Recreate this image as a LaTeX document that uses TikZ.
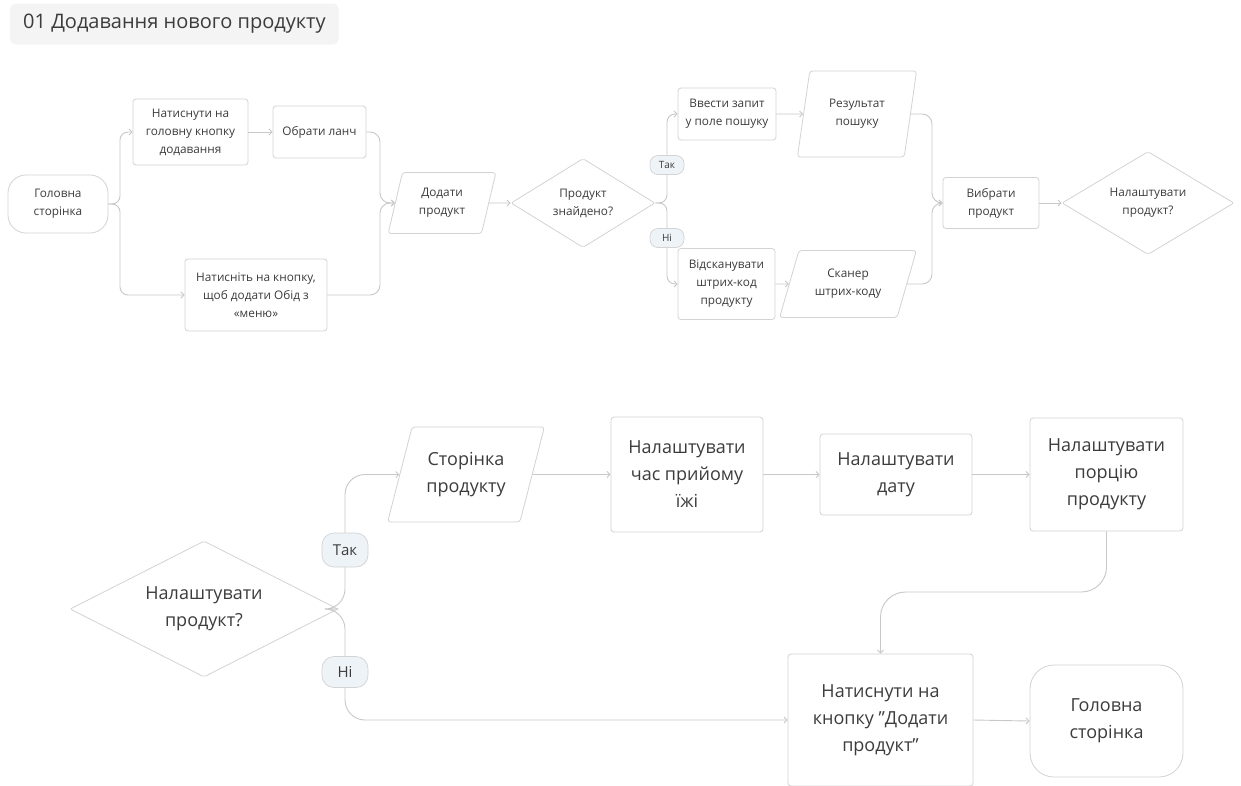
\documentclass[tikz,border=0pt]{standalone}
\usepackage{fontspec}
\setmainfont{Open Sans}
\usetikzlibrary{shapes.geometric,arrows.meta}
\definecolor{bord}{HTML}{D3D3D3}
\definecolor{linec}{HTML}{C8C8C8}
\definecolor{txt}{HTML}{3C3C3C}
\definecolor{pillfill}{HTML}{EEF3F8}
\definecolor{titlebg}{HTML}{F4F4F5}
\begin{document}
\begin{tikzpicture}[x=1pt,y=-1pt,
 base/.style={draw=bord,line width=0.8pt,fill=white,text=txt,align=center,inner sep=0pt},
 sm/.style={font=\fontsize{11.8}{18}\selectfont},
 lg/.style={font=\fontsize{18}{27}\selectfont},
 box/.style={base,rectangle,rounded corners=3pt},
 term/.style={base,rectangle,rounded corners=#1},
 term/.default=18pt,
 para/.style={base,trapezium,trapezium stretches=true,rounded corners=3pt},
 dia/.style={base,diamond,aspect=1.6,rounded corners=2pt},
 pill/.style={draw=bord,line width=0.7pt,fill=pillfill,text=txt,rounded corners=8pt,inner sep=0pt},
 conn/.style={draw=linec,line width=0.9pt,-{Straight Barb[length=3pt,width=6pt]}},
]
\useasboundingbox[fill=white] (0,0) rectangle (1241,785);
\clip (0,0) rectangle (1241,785);

% title
\node[fill=titlebg,rounded corners=6pt,anchor=west,inner xsep=13pt,minimum height=41pt,
      font=\fontsize{20}{22}\selectfont,text=txt] (title) at (10,24) {01 Додавання нового продукту};

% ---------- top flow ----------
\node[term=18pt,sm,minimum width=100,minimum height=58] (g1) at (58,204) {Головна\\сторінка};
\node[box,sm,minimum width=115,minimum height=66] (n1) at (190.5,132) {Натиснути на\\головну кнопку\\додавання};
\node[box,sm,minimum width=93,minimum height=52] (o1) at (319.5,132) {Обрати ланч};
\node[box,sm,minimum width=142,minimum height=72] (n2) at (256,295) {Натисніть на кнопку,\\щоб додати Обід з\\«меню»};
\node[para,sm,trapezium left angle=74,trapezium right angle=106,minimum width=108,minimum height=61] (d1) at (442,203) {Додати\\продукт};
\node[dia,sm,minimum width=144,minimum height=89] (q1) at (583,203) {Продукт\\знайдено?};
\node[box,sm,minimum width=98,minimum height=52] (v1) at (727,114) {Ввести запит\\у поле пошуку};
\node[para,sm,trapezium left angle=76,trapezium right angle=104,minimum width=120,minimum height=86] (r1) at (857,114) {Результат\\пошуку};
\node[box,sm,minimum width=97,minimum height=71] (s1) at (726.5,284) {Відсканувати\\штрих-код\\продукту};
\node[para,sm,trapezium left angle=66,trapezium right angle=114,minimum width=137,minimum height=67] (c1) at (848,284) {Сканер\\штрих-коду};
\node[box,sm,minimum width=96,minimum height=51] (b1) at (991,203) {Вибрати\\продукт};
\node[dia,sm,minimum width=172,minimum height=103] (q2) at (1148,203) {Налаштувати\\продукт?};

% ---------- bottom flow ----------
\node[dia,lg,minimum width=268,minimum height=136] (q3) at (204,609) {Налаштувати\\продукт?};
\node[para,lg,trapezium left angle=68,trapezium right angle=112,minimum width=157,minimum height=95] (p1) at (466,474.5) {Сторінка\\продукту};
\node[box,lg,minimum width=152,minimum height=115] (t1) at (687,474.5) {Налаштувати\\час прийому\\їжі};
\node[box,lg,minimum width=152,minimum height=81] (t2) at (896,474.5) {Налаштувати\\дату};
\node[box,lg,minimum width=153,minimum height=113] (t3) at (1106.5,474.5) {Налаштувати\\порцію\\продукту};
\node[box,lg,minimum width=185,minimum height=132] (k1) at (880.5,720) {Натиснути на\\кнопку "Додати\\продукт"};
\node[term=24pt,lg,minimum width=153,minimum height=112] (h1) at (1106.5,721) {Головна\\сторінка};

% ---------- junctions ----------
\coordinate (jA) at (120,204);
\coordinate (jB) at (380,203);
\coordinate (jC) at (667,203);
\coordinate (jD) at (932,203);
\coordinate (jE) at (345,609);
\coordinate (jF) at (1000,592);

% ---------- connectors top ----------
\draw[conn,rounded corners=8pt] (g1.east) -- (jA) |- (n1.west);
\draw[conn,rounded corners=8pt] (g1.east) -- (jA) |- (n2.west);
\draw[conn] (n1.east) -- (o1.west);
\draw[conn,rounded corners=10pt] (o1.east) -| (jB) -- (d1.west);
\draw[conn,rounded corners=10pt] (n2.east) -| (jB) -- (d1.west);
\draw[conn] (d1.east) -- (q1.west);
\draw[conn,rounded corners=8pt] (q1.east) -- (jC) |- (v1.west);
\draw[conn,rounded corners=8pt] (q1.east) -- (jC) |- (s1.west);
\draw[conn] (v1.east) -- (r1.west);
\draw[conn] (s1.east) -- (c1.west);
\draw[conn,rounded corners=10pt] (r1.east) -| (jD) -- (b1.west);
\draw[conn,rounded corners=10pt] (c1.east) -| (jD) -- (b1.west);
\draw[conn] (b1.east) -- (q2.west);

% ---------- connectors bottom ----------
\draw[conn,rounded corners=20pt] (q3.east) -- (jE) |- (p1.west);
\draw[conn,rounded corners=20pt] (q3.east) -- (jE) |- (k1.west);
\draw[conn] (p1.east) -- (t1.west);
\draw[conn] (t1.east) -- (t2.west);
\draw[conn] (t2.east) -- (t3.west);
\draw[conn,rounded corners=25pt] (t3.south) |- (jF) -| (k1.north);
\draw[conn] (k1.east) -- (h1.west);

% ---------- labels ----------
\node[pill,font=\fontsize{10}{11}\selectfont,minimum width=34,minimum height=19] (yes1) at (667,165) {Так};
\node[pill,font=\fontsize{10}{11}\selectfont,minimum width=34,minimum height=19] (no1) at (667,238) {Ні};
\node[pill,rounded corners=12pt,font=\fontsize{15}{17}\selectfont,minimum width=46,minimum height=34] (yes2) at (345,550) {Так};
\node[pill,rounded corners=12pt,font=\fontsize{15}{17}\selectfont,minimum width=46,minimum height=31] (no2) at (345,672) {Ні};
\end{tikzpicture}
\end{document}
